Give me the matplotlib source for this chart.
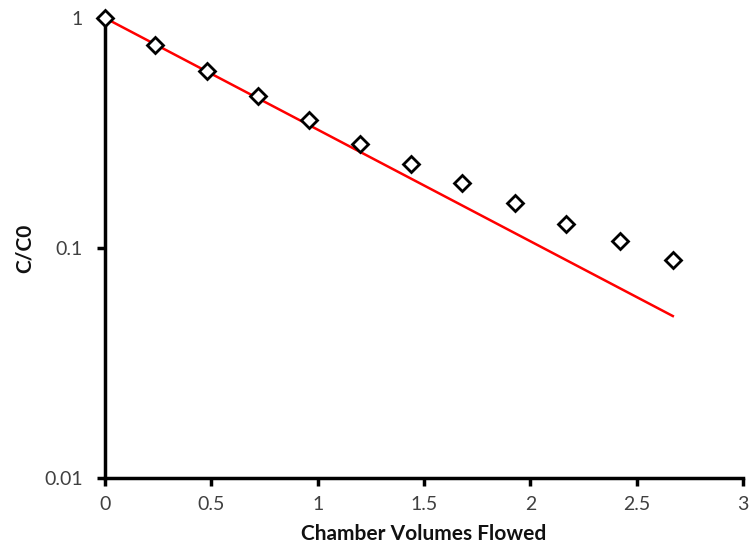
import matplotlib
matplotlib.use("Agg")
import matplotlib.pyplot as plt
from matplotlib.ticker import FixedLocator, FixedFormatter, NullLocator

# Measured concentration ratio vs. chamber volumes flowed
volumes = [0.0, 0.235, 0.48, 0.72, 0.96, 1.20, 1.44, 1.68, 1.93, 2.17, 2.42, 2.67]
c_ratio = [1.0, 0.763, 0.588, 0.458, 0.360, 0.283, 0.232, 0.192, 0.157, 0.127, 0.107, 0.0887]

# Ideal mixing model line (straight on the log axis)
model_x = [0.0, 2.67]
model_y = [1.0, 0.0506]

x_ticks = [0, 0.5, 1, 1.5, 2, 2.5, 3]
x_tick_labels = ["0", "0.5", "1", "1.5", "2", "2.5", "3"]
y_ticks = [0.01, 0.1, 1]
y_tick_labels = ["0.01", "0.1", "1"]

plt.rcParams["font.family"] = ["Lato", "DejaVu Sans"]

fig = plt.figure(figsize=(7.51, 5.48), dpi=100)
ax = fig.add_axes([105 / 751, 1 - 478 / 548, (743 - 105) / 751, (478 - 18) / 548])

ax.plot(model_x, model_y, color="#ff0000", lw=1.8, zorder=2)
ax.plot(volumes, c_ratio, linestyle="none", marker="D", markersize=8,
        markerfacecolor="white", markeredgecolor="black", markeredgewidth=2,
        clip_on=False, zorder=3)

ax.set_yscale("log")
ax.set_xlim(0, 3)
ax.set_ylim(0.01, 1)

ax.xaxis.set_major_locator(FixedLocator(x_ticks))
ax.xaxis.set_major_formatter(FixedFormatter(x_tick_labels))
ax.yaxis.set_major_locator(FixedLocator(y_ticks))
ax.yaxis.set_major_formatter(FixedFormatter(y_tick_labels))
ax.yaxis.set_minor_locator(NullLocator())
ax.xaxis.set_minor_locator(NullLocator())

for side in ("top", "right"):
    ax.spines[side].set_visible(False)
for side in ("left", "bottom"):
    ax.spines[side].set_linewidth(2.5)
    ax.spines[side].set_color("black")

ax.tick_params(axis="both", direction="out", length=6, width=2.5, color="black",
               labelsize=14, labelcolor="#404040")
ax.tick_params(axis="y", pad=10)
ax.tick_params(axis="x", pad=7)

ax.set_xlabel("Chamber Volumes Flowed", fontsize=15, fontweight="bold",
              color="#111111", labelpad=8)
ax.set_ylabel("C/C0", fontsize=15, fontweight="bold", color="#111111", labelpad=7)

fig.savefig("out.png", dpi=100)
